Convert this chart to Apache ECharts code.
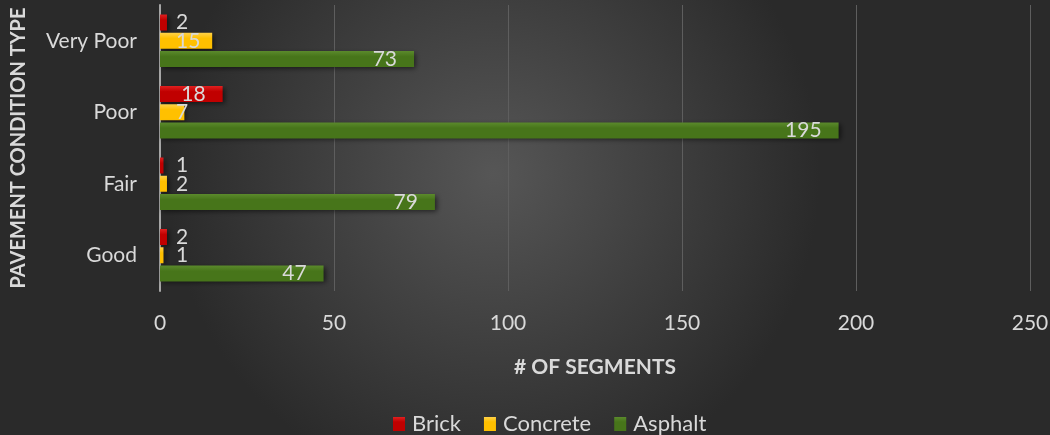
<!DOCTYPE html>
<html>
<head>
<meta charset="utf-8">
<script src="https://cdn.jsdelivr.net/npm/echarts@6/dist/echarts.min.js"></script>
<style>
  html, body { margin: 0; padding: 0; }
  #chart { width: 1050px; height: 435px; }
</style>
</head>
<body>
<div id="chart"></div>
<script>
const categories = ['Good', 'Fair', 'Poor', 'Very Poor'];
const brick = [2, 1, 18, 2];
const concrete = [1, 2, 7, 15];
const asphalt = [47, 79, 195, 73];
const xTicks = [0, 50, 100, 150, 200, 250];

const font = 'Lato, "Open Sans", sans-serif';
const textColor = '#d9d9d9';

function barColor(top, bottom) {
  return new echarts.graphic.LinearGradient(0, 0, 0, 1, [
    { offset: 0, color: top },
    { offset: 0.35, color: bottom },
    { offset: 1, color: bottom }
  ]);
}

function makeSeries(name, values, top, bottom) {
  return {
    name: name,
    type: 'bar',
    data: values,
    barWidth: 16,
    barGap: '14%',
    barCategoryGap: '25%',
    itemStyle: {
      color: barColor(top, bottom),
      shadowColor: 'rgba(0,0,0,0.55)',
      shadowBlur: 5,
      shadowOffsetX: 2,
      shadowOffsetY: 2
    },
    label: {
      show: true,
      position: 'insideRight',
      distance: 17,
      color: textColor,
      fontFamily: font,
      fontSize: 21
    },
    labelLayout: function (p) {
      // excel keeps tiny bar labels just right of the axis
      const minX = p.rect.x + 16;
      if (p.labelRect.x < minX) {
        return {
          x: minX,
          y: p.rect.y + p.rect.height / 2,
          align: 'left',
          verticalAlign: 'middle'
        };
      }
      return {};
    }
  };
}

const chart = echarts.init(document.getElementById('chart'));
chart.setOption({
  backgroundColor: {
    type: 'radial', x: 0.47, y: 0.4, r: 0.75,
    colorStops: [
      { offset: 0, color: '#565656' },
      { offset: 1, color: '#2a2a2a' }
    ]
  },
  animation: false,
  grid: { left: 160, right: 20, top: 5, bottom: 144, outerBoundsMode: 'none' },
  legend: {
    data: ['Brick', 'Concrete', 'Asphalt'],
    bottom: -5,
    left: 388,
    icon: 'rect',
    itemWidth: 12,
    itemHeight: 14,
    itemGap: 23,
    textStyle: { color: textColor, fontFamily: font, fontSize: 22, padding: [0, 0, 0, 2] }
  },
  xAxis: {
    type: 'value',
    min: xTicks[0],
    max: xTicks[xTicks.length - 1],
    interval: 50,
    name: '# OF SEGMENTS',
    nameLocation: 'middle',
    nameGap: 66,
    nameTextStyle: { color: textColor, fontFamily: font, fontSize: 21, fontWeight: 'bold' },
    axisLine: { show: false },
    axisTick: { show: false },
    axisLabel: { color: textColor, fontFamily: font, fontSize: 21, margin: 22 },
    splitLine: { lineStyle: { color: '#5e5e5e', width: 1 } }
  },
  yAxis: {
    type: 'category',
    data: categories,
    name: 'PAVEMENT CONDITION TYPE',
    nameLocation: 'middle',
    nameGap: 131,
    nameRotate: 90,
    nameTextStyle: { color: textColor, fontFamily: font, fontSize: 20, fontWeight: 'bold' },
    axisLine: { show: true, lineStyle: { color: '#a6a6a6', width: 2 } },
    axisTick: { show: false },
    axisLabel: { color: textColor, fontFamily: font, fontSize: 21, margin: 23 }
  },
  series: [
    makeSeries('Brick', brick, '#e02020', '#c00000'),
    makeSeries('Concrete', concrete, '#ffd24a', '#ffc000'),
    makeSeries('Asphalt', asphalt, '#5b8a2c', '#47751a')
  ]
});
</script>
</body>
</html>
